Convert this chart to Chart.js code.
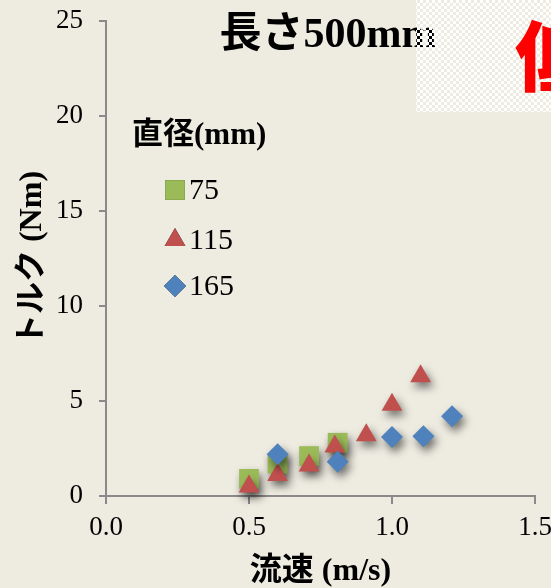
<!DOCTYPE html>
<html>
<head>
<meta charset="utf-8">
<script src="https://cdn.jsdelivr.net/npm/chart.js@4.4.1/dist/chart.umd.min.js"></script>
<style>
  html, body { margin: 0; padding: 0; background: #EEECE1; }
  #wrap { width: 551px; height: 588px; }
</style>
</head>
<body>
<div id="wrap"><canvas id="c" width="551" height="588"></canvas></div>
<script>
// Torque vs. flow speed for three pipe diameters (length 500 mm)
const chartTitle = '長さ500mm';
const legendTitle = '直径(mm)';
const seriesNames = ['75', '115', '165'];

const speed75  = [0.50, 0.60, 0.71, 0.81];
const torque75 = [0.9, 1.7, 2.1, 2.8];

const speed115  = [0.50, 0.60, 0.71, 0.80, 0.91, 1.00, 1.10];
const torque115 = [0.5, 1.1, 1.6, 2.6, 3.2, 4.8, 6.3];

const speed165  = [0.60, 0.81, 1.00, 1.11, 1.21];
const torque165 = [2.2, 1.8, 3.1, 3.15, 4.2];

const xTicks = [0, 0.5, 1.0, 1.5];
const yTicks = [0, 5, 10, 15, 20, 25];

const toPoints = (xs, ys) => xs.map((x, i) => ({ x: x, y: ys[i] }));

const BG = '#EEECE1';
const AXIS = '#8A8A8A';
const SERIF = "'Liberation Serif', 'Noto Sans CJK JP', serif";
const MIXED = "'Liberation Serif', 'Noto Sans CJK JP', sans-serif";

// page background
const backgroundPlugin = {
  id: 'background',
  beforeDraw(chart) {
    const ctx = chart.ctx;
    ctx.save();
    ctx.fillStyle = BG;
    ctx.fillRect(0, 0, chart.width, chart.height);
    ctx.restore();
  }
};

// soft drop shadow under the markers
const markerShadow = {
  id: 'markerShadow',
  beforeDatasetsDraw(chart) {
    const ctx = chart.ctx;
    ctx.save();
    ctx.shadowColor = 'rgba(0,0,0,0.55)';
    ctx.shadowBlur = 8;
    ctx.shadowOffsetX = 3;
    ctx.shadowOffsetY = 5;
  },
  afterDatasetsDraw(chart) {
    chart.ctx.restore();
  }
};

// heading, legend block and the pasted label box at the top right
const annotations = {
  id: 'annotations',
  afterDraw(chart) {
    const ctx = chart.ctx;
    ctx.save();

    // heading
    ctx.fillStyle = '#000';
    ctx.font = "bold 42px " + MIXED;
    ctx.textAlign = 'center';
    ctx.textBaseline = 'middle';
    ctx.fillText(chartTitle, 328, 36);

    // legend
    ctx.textAlign = 'left';
    ctx.font = "bold 31px " + MIXED;
    ctx.fillText(legendTitle, 132, 136);
    const rowY = [190, 240, 286];
    chart.data.datasets.forEach((ds, i) => {
      ctx.save();
      ctx.shadowColor = 'transparent';
      Chart.helpers.drawPoint(ctx, {
        pointStyle: ds.pointStyle,
        radius: ds.pointRadius,
        borderWidth: 0,
        rotation: 0
      }, 175, rowY[i]);
      ctx.fillStyle = ds.backgroundColor;
      ctx.fill();
      ctx.restore();
      ctx.fillStyle = '#000';
      ctx.font = "30px " + SERIF;
      ctx.textBaseline = 'middle';
      ctx.fillText(ds.label, 189, rowY[i] + 1);
    });

    // checkered box partly covering the heading
    const tile = document.createElement('canvas');
    tile.width = 6; tile.height = 6;
    const t = tile.getContext('2d');
    t.fillStyle = '#FFFFFF';
    t.fillRect(0, 0, 3, 3);
    t.fillRect(3, 3, 3, 3);
    ctx.fillStyle = ctx.createPattern(tile, 'repeat');
    ctx.fillRect(416, 0, 135, 112);

    ctx.fillStyle = '#FF0000';
    ctx.font = "900 76px 'Noto Sans CJK JP', sans-serif";
    ctx.textAlign = 'left';
    ctx.textBaseline = 'middle';
    ctx.fillText('低', 515, 56);

    ctx.restore();
  }
};

new Chart(document.getElementById('c'), {
  type: 'scatter',
  data: {
    datasets: [
      {
        label: seriesNames[0],
        data: toPoints(speed75, torque75),
        pointStyle: 'rect',
        pointRadius: 14,
        backgroundColor: '#9BBB59',
        borderWidth: 0,
        order: 3
      },
      {
        label: seriesNames[1],
        data: toPoints(speed115, torque115),
        pointStyle: 'triangle',
        pointRadius: 12,
        backgroundColor: '#C0504D',
        borderWidth: 0,
        order: 2
      },
      {
        label: seriesNames[2],
        data: toPoints(speed165, torque165),
        pointStyle: 'rectRot',
        pointRadius: 11,
        backgroundColor: '#4F81BD',
        borderWidth: 0,
        order: 1
      }
    ]
  },
  options: {
    responsive: false,
    animation: false,
    devicePixelRatio: 1,
    clip: false,
    layout: { padding: { top: 21, right: 16, left: 0, bottom: 0 } },
    plugins: {
      legend: { display: false },
      tooltip: { enabled: false }
    },
    elements: { point: { hoverRadius: 12 } },
    scales: {
      x: {
        type: 'linear',
        min: 0,
        max: 1.5,
        afterBuildTicks(scale) { scale.ticks = xTicks.map(v => ({ value: v })); },
        afterFit(scale) { scale.height = 92; scale.paddingLeft = 0; scale.paddingRight = 0; },
        border: { display: true, color: AXIS, width: 2 },
        grid: { display: true, drawOnChartArea: false, drawTicks: true, tickLength: 8, color: AXIS, lineWidth: 2 },
        ticks: {
          color: '#000',
          font: { family: SERIF, size: 27 },
          padding: 8,
          maxRotation: 0,
          callback: v => Number(v).toFixed(1)
        },
        title: {
          display: true,
          text: '流速 (m/s)',
          color: '#000',
          font: { family: MIXED, size: 32, weight: 'bold', lineHeight: 1 },
          padding: { top: 0, bottom: 0 }
        }
      },
      y: {
        type: 'linear',
        min: 0,
        max: 25,
        afterBuildTicks(scale) { scale.ticks = yTicks.map(v => ({ value: v })); },
        afterFit(scale) { scale.width = 106; scale.paddingTop = 0; scale.paddingBottom = 0; },
        border: { display: true, color: AXIS, width: 2 },
        grid: { display: true, drawOnChartArea: false, drawTicks: true, tickLength: 7, color: AXIS, lineWidth: 2 },
        ticks: {
          color: '#000',
          font: { family: SERIF, size: 27 },
          padding: 16
        },
        title: {
          display: true,
          text: 'トルク (Nm)',
          color: '#000',
          font: { family: MIXED, size: 32, weight: 'bold', lineHeight: 1 },
          padding: { top: 17, bottom: 0 }
        }
      }
    }
  },
  plugins: [backgroundPlugin, markerShadow, annotations]
});
</script>
</body>
</html>
